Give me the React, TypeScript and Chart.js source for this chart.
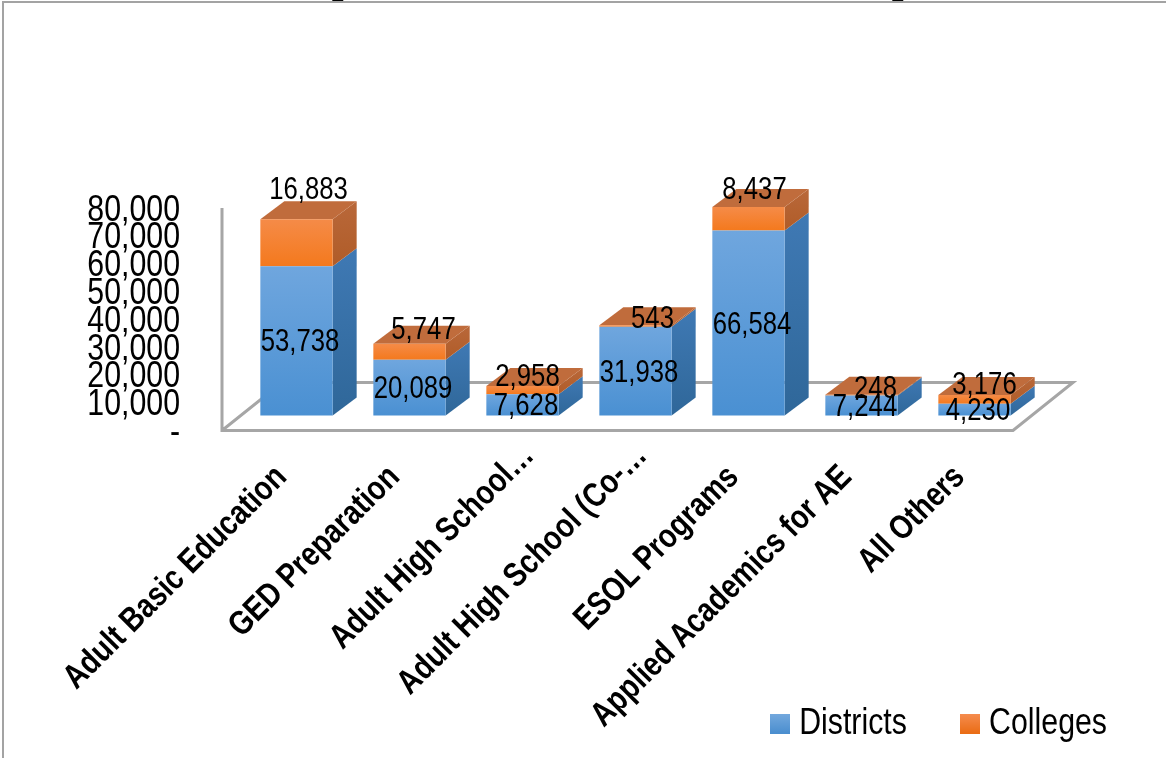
import React, { useEffect, useRef } from "react";
import { Chart, registerables } from "chart.js";

Chart.register(...registerables);

const categories = [
  "Adult Basic Education",
  "GED Preparation",
  "Adult High School…",
  "Adult High School (Co-…",
  "ESOL Programs",
  "Applied Academics for AE",
  "All Others",
];
const districts = [53738, 20089, 7628, 31938, 66584, 7244, 4230];
const colleges = [16883, 5747, 2958, 543, 8437, 248, 3176];

const FONT = '"Liberation Sans", Arial, sans-serif';
const NARROW = 0.83;
const W = 1166;
const H = 758;
const DX = 24;
const DY = 18;
const collegeLabelDx = [12, 14, 5, 17, 6, 14, 10];
const numFmt = (v: number) => v.toLocaleString("en-US");

// No narrow face is installed: condense all canvas text horizontally.
// Labels truncated with an ellipsis sit further along their own direction.
function condense(ctx: any) {
  const fill = ctx.fillText.bind(ctx);
  const measure = ctx.measureText.bind(ctx);
  ctx.fillText = (t: string, x: number, y: number) => {
    ctx.save();
    ctx.translate(x + (String(t).endsWith("…") ? 30 : 0), y);
    ctx.scale(NARROW, 1);
    fill(t, 0, 0);
    ctx.restore();
  };
  ctx.measureText = (t: string) => {
    const m = measure(t);
    return { width: m.width * NARROW, actualBoundingBoxAscent: m.actualBoundingBoxAscent, actualBoundingBoxDescent: m.actualBoundingBoxDescent };
  };
}

function swatch(top: string, bottom: string) {
  const c = document.createElement("canvas");
  c.width = 20;
  c.height = 20;
  const g = c.getContext("2d")!;
  const gr = g.createLinearGradient(0, 0, 0, 20);
  gr.addColorStop(0, top);
  gr.addColorStop(1, bottom);
  g.fillStyle = gr;
  g.fillRect(0, 0, 20, 20);
  return c;
}

function quad(ctx: CanvasRenderingContext2D, pts: number[][], fill: any) {
  ctx.beginPath();
  pts.forEach((p, i) => (i ? ctx.lineTo(p[0], p[1]) : ctx.moveTo(p[0], p[1])));
  ctx.closePath();
  ctx.fillStyle = fill;
  ctx.fill();
}

const threeD = {
  id: "threeD",
  beforeDatasetsDraw(chart: any) {
    const ctx: CanvasRenderingContext2D = chart.ctx;
    const { left, right, top, bottom } = chart.chartArea;
    ctx.save();
    // clipped title descenders
    ctx.fillStyle = "#000";
    ctx.font = `bold 34px ${FONT}`;
    ctx.textAlign = "center";
    ctx.textBaseline = "alphabetic";
    ctx.fillText("g", 338, -4);
    ctx.fillText("g", 898, -4);
    // frame
    ctx.strokeStyle = "#a3a3a3";
    ctx.lineWidth = 2;
    ctx.beginPath();
    ctx.moveTo(3, H);
    ctx.lineTo(3, 2);
    ctx.lineTo(W, 2);
    ctx.stroke();
    // walls and floor
    const x0 = left - 18;
    const x1 = right - 18;
    ctx.strokeStyle = "#a6a6a6";
    ctx.lineWidth = 3;
    ctx.lineJoin = "miter";
    ctx.beginPath();
    ctx.moveTo(x0, top);
    ctx.lineTo(x0, bottom);
    ctx.lineTo(x1, bottom);
    ctx.lineTo(x1 + 60, bottom - 48);
    ctx.lineTo(x0 + 60, bottom - 48);
    ctx.lineTo(x0, bottom);
    ctx.stroke();

    const metas = [chart.getDatasetMeta(0), chart.getDatasetMeta(1)];
    metas.forEach((meta: any, ds: number) => {
      meta.data.forEach((bar: any) => {
        const l = bar.x - bar.width / 2;
        const r = bar.x + bar.width / 2;
        const t = bar.y;
        const b = bar.base;
        const side = ctx.createLinearGradient(0, t - DY, 0, b);
        if (ds === 0) {
          side.addColorStop(0, "#3f79b4");
          side.addColorStop(1, "#2f6799");
        } else {
          side.addColorStop(0, "#b9683a");
          side.addColorStop(1, "#b05c28");
        }
        quad(ctx, [[r, t], [r + DX, t - DY], [r + DX, b - DY], [r, b]], side);
        if (ds === 1) {
          quad(ctx, [[l, t], [r, t], [r + DX, t - DY], [l + DX, t - DY]], "#c06c3c");
        }
      });
    });
    ctx.restore();
  },
  afterDatasetsDraw(chart: any) {
    const ctx: CanvasRenderingContext2D = chart.ctx;
    ctx.save();
    ctx.fillStyle = "#000";
    ctx.font = `31px ${FONT}`;
    ctx.textAlign = "center";
    ctx.textBaseline = "middle";
    chart.getDatasetMeta(0).data.forEach((bar: any, i: number) => {
      ctx.fillText(numFmt(districts[i]), bar.x + 3.5, (bar.y + bar.base) / 2 + 2);
    });
    chart.getDatasetMeta(1).data.forEach((bar: any, i: number) => {
      const h = bar.base - bar.y;
      ctx.fillText(numFmt(colleges[i]), bar.x + collegeLabelDx[i], (bar.y + bar.base) / 2 - 8 - h + 3);
    });
    ctx.restore();
  },
};

function faceFill(top: string, bottom: string, flat: any, isBase: boolean) {
  return (c: any) => {
    if (c.type !== "data") return flat;
    const y = c.chart.scales.yBars;
    const start = isBase ? 0 : districts[c.dataIndex];
    const end = isBase ? districts[c.dataIndex] : districts[c.dataIndex] + colleges[c.dataIndex];
    const g = c.chart.ctx.createLinearGradient(0, y.getPixelForValue(end), 0, y.getPixelForValue(start));
    g.addColorStop(0, top);
    g.addColorStop(1, bottom);
    return g;
  };
}

export default function App() {
  const ref = useRef<HTMLCanvasElement>(null);
  useEffect(() => {
    const swatches = [swatch("#74a9de", "#4a8ecf"), swatch("#f68d4f", "#ea6c14")];
    condense(ref.current!.getContext("2d"));
    const chart = new Chart(ref.current!, {
      type: "bar",
      data: {
        labels: categories,
        datasets: [
          {
            label: "Districts",
            data: districts,
            yAxisID: "yBars",
            backgroundColor: faceFill("#6fa6de", "#4a90d2", "#5b9bd5", true),
            clip: false,
          },
          {
            label: "Colleges",
            data: colleges,
            yAxisID: "yBars",
            backgroundColor: faceFill("#f58b48", "#f4791d", "#ed7d31", false),
            clip: false,
          },
        ] as any,
      },
      options: {
        responsive: false,
        animation: false,
        devicePixelRatio: 1,
        layout: { padding: { top: 208, left: 0, right: -3, bottom: 6 } },
        datasets: { bar: { barPercentage: 0.64, categoryPercentage: 1, borderWidth: 0 } },
        plugins: {
          title: { display: false },
          tooltip: { enabled: false },
          legend: {
            position: "bottom",
            align: "end",
            labels: {
              usePointStyle: true,
              pointStyleWidth: 2,
              boxHeight: 20,
              padding: 62,
              color: "#000",
              font: { family: FONT, size: 36.5 },
              generateLabels: (c: any) =>
                c.data.datasets.map((d: any, i: number) => ({
                  text: d.label,
                  pointStyle: swatches[i],
                  datasetIndex: i,
                  lineWidth: 0,
                  fontColor: "#000",
                  hidden: false,
                })),
            },
          },
        },
        scales: {
          x: {
            stacked: true,
            grid: { display: false },
            border: { display: false },
            ticks: {
              autoSkip: false,
              maxRotation: 45,
              minRotation: 45,
              padding: 19,
              labelOffset: -15,
              color: "#000",
              font: { family: FONT, size: 34, weight: "bold" },
            },
            afterFit: (s: any) => {
              s.height = 213;
              s._computeLabelArea = () => undefined;
            },
          },
          y: {
            position: "left",
            min: 0,
            max: 80000,
            grid: { display: false },
            border: { display: false },
            ticks: {
              stepSize: 10000,
              autoSkip: false,
              padding: 52,
              labelOffset: 2.5,
              color: "#000",
              font: { family: FONT, size: 36.5 },
              callback: (v: any) => (v === 0 ? "-" : numFmt(v)),
            },
            afterFit: (s: any) => {
              s.width = 240;
            },
          },
          yBars: {
            position: "right",
            stacked: true,
            min: -5400,
            max: 74700,
            grid: { display: false },
            border: { display: false },
            ticks: { display: false },
            afterFit: (s: any) => {
              s.width = 138;
            },
          },
        },
      },
      plugins: [threeD],
    } as any);
    return () => chart.destroy();
  }, []);
  return (
    <canvas
      ref={ref}
      width={W}
      height={H}
      style={{ position: "absolute", left: 0, top: 0, display: "block" }}
    />
  );
}
